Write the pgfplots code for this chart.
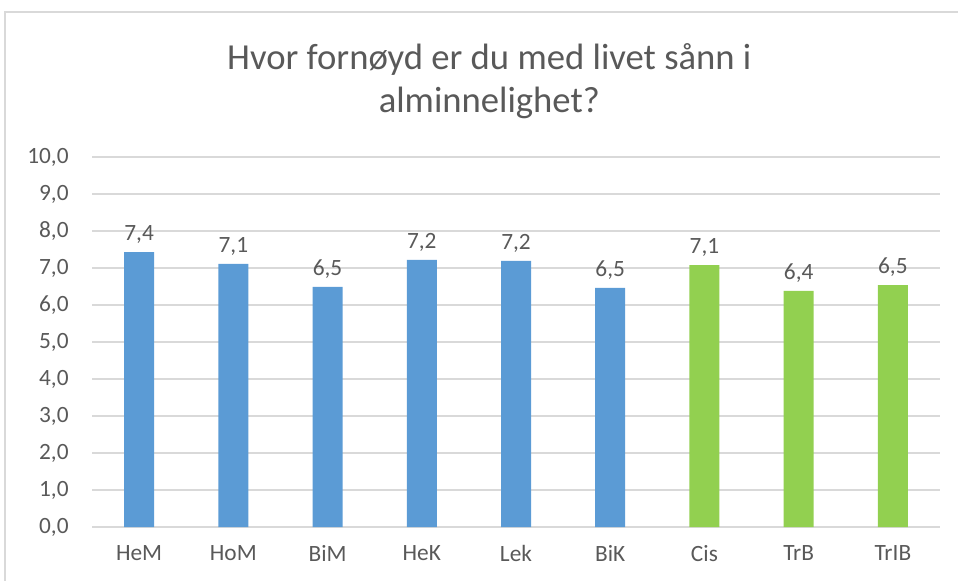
\documentclass[border=0pt]{standalone}
\usepackage{fontspec}
\setmainfont{Carlito}
\usepackage{pgfplots}
\pgfplotsset{compat=1.18}
\definecolor{barblue}{HTML}{5B9BD5}
\definecolor{bargreen}{HTML}{92D050}
\definecolor{txtgray}{HTML}{595959}
\definecolor{gridgray}{HTML}{D9D9D9}
\begin{document}
\begin{tikzpicture}
\path[use as bounding box] (0pt,0pt) rectangle (718.5pt,-435.75pt);
\draw[gridgray, line width=1pt] (3.75pt,-435.75pt) -- (3.75pt,-9pt) -- (718.5pt,-9pt);
\node[txtgray, font=\fontsize{27.5}{32}\selectfont, align=center] at (367pt,-60.75pt)
  {Hvor fornøyd er du med livet sånn i\\alminnelighet?};
\begin{axis}[
  at={(69pt,-395.25pt)}, anchor=south west,
  scale only axis, width=636pt, height=277.5pt,
  ybar, bar width=22.5pt,
  xmin=-0.5, xmax=8.5, ymin=0, ymax=10,
  xtick={0,...,8},
  xticklabels={HeM,HoM,BiM,HeK,Lek,BiK,Cis,TrB,TrIB},
  ytick={0,...,10},
  axis line style={draw=none},
  tick style={draw=none},
  ymajorgrids, grid style={gridgray, line width=1pt},
  /pgf/number format/.cd, fixed, fixed zerofill, precision=1, use comma, assume math mode=true,
  /pgfplots/.cd,
  tick label style={font=\fontsize{17.5}{20}\selectfont, text=txtgray},
  yticklabel style={xshift=-14pt},
  xticklabel style={yshift=-6pt},
  nodes near coords,
  every node near coord/.append style={font=\fontsize{17.5}{20}\selectfont, text=txtgray, yshift=3pt},
  clip=false,
]
\addplot[fill=barblue, draw=none, bar shift=0pt] coordinates {(0,7.43) (1,7.11) (2,6.49) (3,7.22) (4,7.19) (5,6.46)};
\addplot[fill=bargreen, draw=none, bar shift=0pt] coordinates {(6,7.08) (7,6.38) (8,6.54)};
\end{axis}
\end{tikzpicture}
\end{document}
